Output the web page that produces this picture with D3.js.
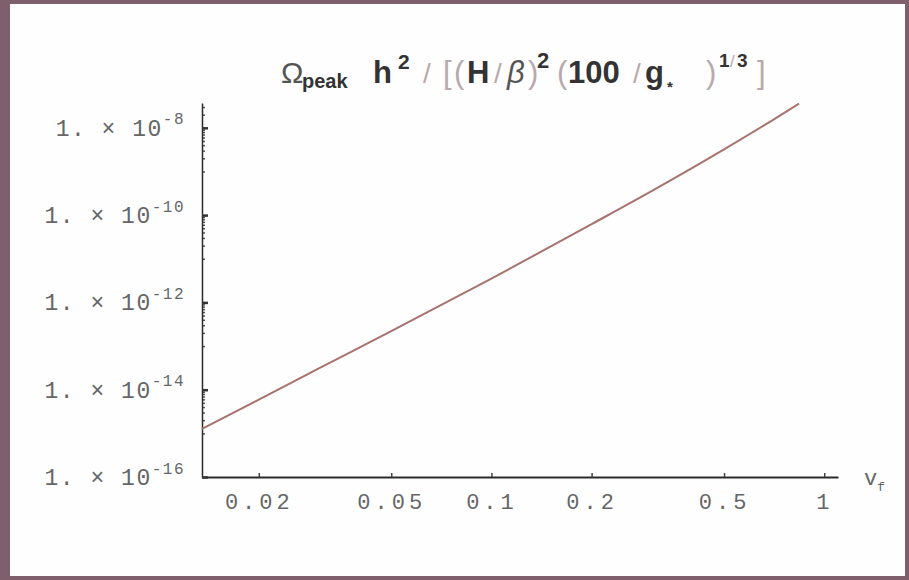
<!DOCTYPE html>
<html>
<head>
<meta charset="utf-8">
<script src="https://cdn.jsdelivr.net/npm/d3@7"></script>
<style>
  html, body { margin: 0; padding: 0; background: #7e5f6b; }
  svg { display: block; }
</style>
</head>
<body>
<svg id="chart" width="909" height="580"></svg>
<script>
// curve values (v_f on x, Omega_peak h^2 / ... on y)
const vf = [0.0135, 0.02, 0.03, 0.05, 0.1, 0.2, 0.3, 0.5, 0.7, 0.84];
const omegaPeak = [1.26e-15, 5.9e-15, 2.95e-14, 2.2e-13, 3.5e-12, 6.2e-11, 3.4e-10, 3.2e-9, 1.5e-8, 3.6e-8];

const xTicks = [0.02, 0.05, 0.1, 0.2, 0.5, 1];
const xTickLabels = ['0.02', '0.05', '0.1', '0.2', '0.5', '1'];
const yTickExponents = [-16, -14, -12, -10, -8];
const yMinorExponents = [-15, -13, -11, -9];

const width = 909, height = 580;
const margin = { top: 103, right: 71, bottom: 103, left: 202 };

const svg = d3.select('#chart');

// paper area inside the mauve frame
svg.append('rect')
    .attr('x', 10).attr('y', 4)
    .attr('width', 895).attr('height', 572)
    .attr('fill', '#fefefe');

const x = d3.scaleLog()
    .domain([0.0135, 1.1])
    .range([margin.left, width - margin.right]);

const y = d3.scaleLog()
    .domain([1e-16, 3.7e-8])
    .range([height - margin.bottom, margin.top]);

// x axis
const xAxisG = svg.append('g')
    .attr('transform', `translate(0, ${height - margin.bottom})`)
    .call(d3.axisBottom(x)
        .tickValues(xTicks)
        .tickFormat((d, i) => xTickLabels[i])
        .tickSizeInner(-4)
        .tickSizeOuter(0)
        .tickPadding(16));

xAxisG.select('.domain').attr('stroke', '#2a2a2a').attr('stroke-width', 2);
xAxisG.selectAll('.tick line').attr('stroke', '#444').attr('stroke-width', 1.5);
xAxisG.selectAll('.tick text')
    .attr('font-family', '"Liberation Mono", "DejaVu Sans Mono", monospace')
    .attr('font-size', 22)
    .attr('letter-spacing', 4)
    .attr('fill', '#666');

// y axis, minor ticks first
const minors = [];
yMinorExponents.forEach(e => {
    for (let j = 1; j <= 9; j++) minors.push(j * Math.pow(10, e));
});
minors.push(Math.pow(10, -8) * 2, Math.pow(10, -8) * 3);

svg.append('g')
    .attr('transform', `translate(${margin.left}, 0)`)
    .call(d3.axisLeft(y).tickValues(minors).tickSizeInner(-3).tickSizeOuter(0).tickFormat(''))
    .call(g => g.select('.domain').remove())
    .call(g => g.selectAll('.tick line').attr('stroke', '#555').attr('stroke-width', 1.5));

const yAxisG = svg.append('g')
    .attr('transform', `translate(${margin.left}, 0)`)
    .call(d3.axisLeft(y)
        .tickValues(yTickExponents.map(e => Math.pow(10, e)))
        .tickSizeInner(-6)
        .tickSizeOuter(0)
        .tickPadding(17)
        .tickFormat(''));

yAxisG.select('.domain').attr('stroke', '#2a2a2a').attr('stroke-width', 1.5);
yAxisG.selectAll('.tick line').attr('stroke', '#333').attr('stroke-width', 2.5);

yAxisG.selectAll('.tick text')
    .attr('font-family', '"Liberation Mono", "DejaVu Sans Mono", monospace')
    .attr('font-size', 23)
    .attr('letter-spacing', 1.5)
    .attr('fill', '#666')
    .each(function (d, i) {
        const t = d3.select(this);
        t.append('tspan').text('1. × 10');
        t.append('tspan')
            .attr('font-size', 16)
            .attr('dy', '-0.7em')
            .text(yTickExponents[i]);
    });

// the curve
const line = d3.line()
    .x((d, i) => x(vf[i]))
    .y(d => y(d))
    .curve(d3.curveMonotoneX);

svg.append('path')
    .datum(omegaPeak)
    .attr('d', line)
    .attr('fill', 'none')
    .attr('stroke', '#a8726e')
    .attr('stroke-width', 2);

// axis label v_f
const vLabel = svg.append('text')
    .attr('x', 864).attr('y', 485)
    .attr('font-family', '"Liberation Mono", "DejaVu Sans Mono", monospace')
    .attr('font-size', 22)
    .attr('fill', '#666');
vLabel.append('tspan').text('v');
vLabel.append('tspan').attr('font-size', 13).attr('dy', 6).text('f');

// title
const title = svg.append('text')
    .attr('font-family', '"Liberation Sans", Arial, sans-serif')
    .attr('font-size', 31)
    .attr('font-weight', 'bold')
    .attr('fill', '#333');

const piece = (txt, px, opts = {}) => {
    const s = title.append('tspan')
        .attr('x', px)
        .attr('y', opts.y || 83)
        .text(txt);
    if (opts.size) s.attr('font-size', opts.size);
    if (opts.light) s.attr('font-weight', 'normal').attr('fill', '#b9a9ad');
    if (opts.normal) s.attr('font-weight', 'normal').attr('fill', '#555');
    if (opts.italic) s.attr('font-style', 'italic');
    return s;
};

piece('Ω', 281, { normal: true, size: 30 });
piece('peak', 302, { size: 20, y: 88 });
piece('h', 373);
piece('2', 398, { size: 21, y: 69 });
piece('/', 423, { light: true, size: 28 });
piece('[', 443, { light: true });
piece('(', 454, { light: true });
piece('H', 467);
piece('/', 494, { light: true, size: 28 });
piece('β', 507, { normal: true, italic: true });
piece(')', 528, { light: true });
piece('2', 537, { size: 22, y: 68 });
piece('(', 557, { light: true });
piece('100', 568);
piece('/', 633, { light: true, size: 28 });
piece('g', 645);
piece('*', 667, { size: 15, y: 92 });
piece(')', 706, { light: true });
piece('1', 719, { size: 19, y: 67 });
piece('/', 730, { light: true, size: 17, y: 67 });
piece('3', 737, { size: 19, y: 67 });
piece(']', 757, { light: true });
</script>
</body>
</html>
